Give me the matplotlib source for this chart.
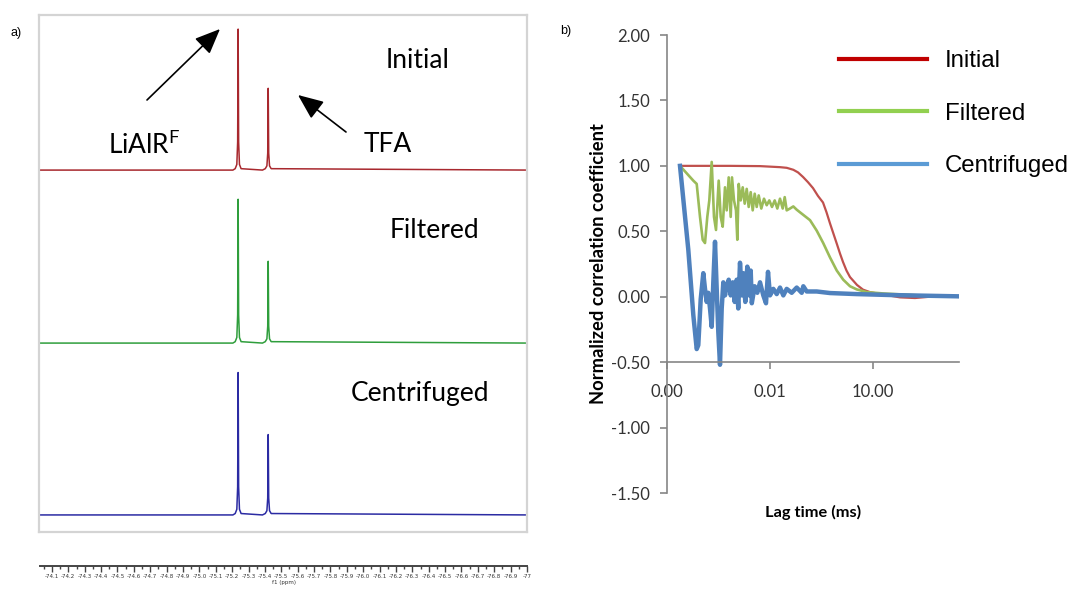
import matplotlib
matplotlib.use("Agg")
import matplotlib.pyplot as plt
from matplotlib.lines import Line2D
from matplotlib.patches import FancyArrowPatch
from matplotlib.ticker import FixedLocator, FuncFormatter, MultipleLocator

# ---------------- panel a : 19F spectra ----------------
ppm = [-74.02, -75.200, -75.214, -75.224, -75.229, -75.232, -75.235, -75.240, -75.250,
       -75.380, -75.397, -75.407, -75.412, -75.415, -75.418, -75.423, -75.433, -77.0]
spec_initial = [0, 0, 0.01, 0.04, 0.20, 1.00, 0.20, 0.04, 0.01,
                0, 0.01, 0.03, 0.12, 0.58, 0.12, 0.03, 0.01, 0]
spec_filtered = [0, 0, 0.01, 0.04, 0.20, 1.02, 0.20, 0.04, 0.01,
                 0, 0.01, 0.03, 0.12, 0.58, 0.12, 0.03, 0.01, 0]
spec_centrifuged = [0, 0, 0.01, 0.04, 0.20, 1.01, 0.20, 0.04, 0.01,
                    0, 0.01, 0.03, 0.12, 0.57, 0.12, 0.03, 0.01, 0]
sample_names = ["Initial", "Filtered", "Centrifuged"]

# ---------------- panel b : correlation curves ----------------
lag_initial = [2.39e-5, 9.15e-5, 6.84e-4, 5.12e-3, 0.0196, 0.0307, 0.0478, 0.0655, 0.0917,
               0.128, 0.179, 0.250, 0.350, 0.443, 0.560, 0.708, 0.895, 1.094, 1.34, 1.69,
               2.14, 3.42, 5.12, 8.18, 13.1, 31.3, 61.2, 167, 458, 3000]
initial = [1.00, 1.00, 1.00, 0.998, 0.99, 0.985, 0.97, 0.95, 0.915,
           0.875, 0.83, 0.77, 0.72, 0.645, 0.56, 0.48, 0.40, 0.33, 0.265, 0.20,
           0.15, 0.09, 0.054, 0.035, 0.025, 0.008, -0.005, -0.01, 0.0, 0.005]

lag_filtered = [2.39e-5, 5.84e-5, 7.33e-5, 9.15e-5, 1.096e-4, 1.279e-4, 1.492e-4, 1.707e-4,
                2.005e-4, 2.339e-4, 2.675e-4, 3.206e-4, 3.666e-4, 4.193e-4, 4.891e-4, 5.483e-4,
                6.27e-4, 7.17e-4, 7.82e-4, 8.95e-4, 1.023e-3, 1.117e-3, 1.226e-3, 1.402e-3,
                1.604e-3, 1.834e-3, 2.097e-3, 2.397e-3, 2.742e-3, 3.136e-3, 3.585e-3, 4.10e-3,
                4.69e-3, 5.58e-3, 6.69e-3, 8.02e-3, 9.55e-3, 0.01144, 0.01372, 0.01633,
                0.01957, 0.02346, 0.02682, 0.03067, 0.03827, 0.04775, 0.05998, 0.0748,
                0.1464, 0.2294, 0.355, 0.560, 0.88, 1.36, 2.14, 3.35, 6.6, 19.6, 98, 458, 3000]
filtered = [1.00, 0.887, 0.862, 0.61, 0.435, 0.41, 0.61, 0.736,
            1.03, 0.61, 0.51, 0.887, 0.61, 0.535, 0.836, 0.66,
            0.912, 0.61, 0.912, 0.736, 0.66, 0.435, 0.862, 0.736,
            0.836, 0.711, 0.824, 0.686, 0.799, 0.66, 0.787, 0.686,
            0.774, 0.674, 0.749, 0.699, 0.736, 0.686, 0.736, 0.674,
            0.749, 0.674, 0.761, 0.66, 0.674, 0.69, 0.665, 0.645,
            0.585, 0.505, 0.41, 0.30, 0.20, 0.13, 0.08, 0.056, 0.035, 0.025, 0.015, 0.005, 0.0]

lag_centrifuged = [2.39e-5, 4.17e-5, 5.84e-5, 7.33e-5, 8.16e-5, 9.58e-5, 1.141e-4, 1.279e-4,
                   1.434e-4, 1.596e-4, 1.789e-4, 2.005e-4, 2.232e-4, 2.502e-4, 2.803e-4,
                   3.121e-4, 3.498e-4, 3.921e-4, 4.365e-4, 4.891e-4, 5.483e-4, 6.27e-4,
                   7.17e-4, 8.20e-4, 9.37e-4, 1.072e-3, 1.19e-3, 1.338e-3, 1.530e-3, 1.669e-3,
                   1.909e-3, 2.183e-3, 2.496e-3, 2.742e-3, 2.95e-3, 3.585e-3, 4.27e-3, 5.12e-3,
                   6.38e-3, 7.65e-3, 8.75e-3, 0.01, 0.01249, 0.01569, 0.01957, 0.02442,
                   0.03067, 0.04289, 0.05998, 0.0839, 0.0934, 0.1173, 0.2294, 0.560, 3.35,
                   31.3, 292, 3000]
centrifuged = [1.00, 0.36, -0.14, -0.40, -0.37, -0.02, 0.18, 0.06,
               -0.04, 0.03, -0.09, -0.23, 0.11, 0.42, 0.06,
               -0.27, -0.52, -0.09, 0.11, 0.01, 0.08, 0.13,
               0.01, 0.11, -0.04, 0.13, -0.09, 0.26, 0.01, 0.18,
               -0.04, 0.23, 0.01, 0.20, -0.05, 0.08, 0.03, 0.11,
               0.01, -0.05, 0.19, 0.01, 0.06, 0.02, 0.07, 0.01,
               0.06, 0.03, 0.07, 0.03, 0.08, 0.04, 0.04, 0.028, 0.02,
               0.013, 0.008, 0.003]

y_ticks = [-1.5, -1.0, -0.5, 0.0, 0.5, 1.0, 1.5, 2.0]
x_ticks = [1e-5, 1e-2, 10]

W, H = 1072, 590
fig = plt.figure(figsize=(W / 100, H / 100), dpi=100)


def box(l, t, r, b):
    # pixel box -> figure fraction
    return [l / W, 1 - b / H, (r - l) / W, (b - t) / H]


def fxy(x, y):
    return (x / W, 1 - y / H)


# ---- panel a ----
axa = fig.add_axes(box(39, 15, 527, 532))
offsets = [2.567, 1.340, 0.121]
colors_a = ["#a8282e", "#2f9e3c", "#2b2ba3"]
for spec, off, c in zip([spec_initial, spec_filtered, spec_centrifuged], offsets, colors_a):
    axa.plot(ppm, [v + off for v in spec], color=c, lw=1.1)
axa.set_xlim(-74.02, -76.99)
axa.set_ylim(0, 3.667)
axa.set_xticks([])
axa.set_yticks([])
for s in axa.spines.values():
    s.set_color("#d4d4d4")
    s.set_linewidth(1.6)

fa = "Lato"
fig.text(*fxy(418, 61), "Initial", fontsize=19, family=fa, ha="center", va="center")
fig.text(*fxy(434, 230), "Filtered", fontsize=19, family=fa, ha="center", va="center")
fig.text(*fxy(420, 393), "Centrifuged", fontsize=19, family=fa, ha="center", va="center")
fig.text(*fxy(108, 145), "LiAlR$^{\\mathregular{F}}$", fontsize=19, family=fa,
         ha="left", va="center")
fig.text(*fxy(388, 145), "TFA", fontsize=19, family=fa, ha="center", va="center")
fig.text(*fxy(16, 33), "a)", fontsize=9, family="Liberation Sans", ha="center", va="center")

arrow = dict(arrowstyle="-|>,head_length=1.3,head_width=0.55", color="black", lw=1.2,
             shrinkA=0, shrinkB=0, mutation_scale=12, transform=fig.transFigure)
fig.add_artist(FancyArrowPatch(fxy(147, 100), fxy(220, 29), **arrow))
fig.add_artist(FancyArrowPatch(fxy(346, 132), fxy(298, 95), **arrow))

# ppm scale under the spectra
axs = fig.add_axes(box(40, 565, 527, 565.5))
axs.set_xlim(-74.027, -77.0)
axs.set_yticks([])
for k in ["left", "right", "top"]:
    axs.spines[k].set_visible(False)
axs.spines["bottom"].set_color("#444444")
axs.spines["bottom"].set_linewidth(1.4)
axs.xaxis.set_major_locator(MultipleLocator(0.1))
axs.xaxis.set_minor_locator(MultipleLocator(0.05))
axs.xaxis.set_major_formatter(
    FuncFormatter(lambda v, p: "-77" if abs(v + 77) < 1e-6 else "%.1f" % v))
axs.tick_params(axis="x", which="major", length=4, width=1, color="#444444",
                labelsize=4, pad=2, labelcolor="#333333")
axs.tick_params(axis="x", which="minor", length=2.5, width=1, color="#444444")
axs.set_xlabel("f1 (ppm)", fontsize=4, labelpad=1, color="#333333")

# ---- panel b ----
axb = fig.add_axes(box(667, 35, 959, 493))
axb.plot(lag_initial, initial, color="#c0504d", lw=1.6)
axb.plot(lag_filtered, filtered, color="#9bbb59", lw=1.9)
axb.plot(lag_centrifuged, centrifuged, color="#4f81bd", lw=3.2)
axb.set_xscale("log")
axb.set_xlim(1e-5, 3200)
axb.set_ylim(-1.5, 2.0)
axb.spines["top"].set_visible(False)
axb.spines["right"].set_visible(False)
axb.spines["bottom"].set_position(("data", -0.5))
for k in ["left", "bottom"]:
    axb.spines[k].set_color("#868686")
    axb.spines[k].set_linewidth(1.2)
axb.yaxis.set_major_locator(FixedLocator(y_ticks))
axb.yaxis.set_major_formatter(FuncFormatter(lambda v, p: "%.2f" % v))
axb.xaxis.set_major_locator(FixedLocator(x_ticks))
axb.xaxis.set_minor_locator(FixedLocator([]))
axb.xaxis.set_major_formatter(FuncFormatter(lambda v, p: "%.2f" % v))
axb.tick_params(axis="both", color="#868686", width=1.2, length=5, labelsize=12,
                labelcolor="#333333")
axb.tick_params(axis="y", pad=7)
axb.tick_params(axis="x", pad=11)
for lab in axb.get_xticklabels() + axb.get_yticklabels():
    lab.set_family(fa)
axb.set_ylabel("Normalized correlation coefficient", fontsize=13.2, family=fa,
               fontweight="bold")
axb.yaxis.set_label_coords(-0.205, 0.5)
axb.set_xlabel("Lag time (ms)", fontsize=11.8, family=fa, fontweight="bold")
axb.xaxis.set_label_coords(0.5, -0.026)

handles = [Line2D([], [], color="#c00000", lw=3),
           Line2D([], [], color="#92d050", lw=3),
           Line2D([], [], color="#5b9bd5", lw=3)]
fig.legend(handles, sample_names, loc="upper left",
           bbox_to_anchor=fxy(839, 50), bbox_transform=fig.transFigure,
           frameon=False, handlelength=3.65, handletextpad=0.75,
           labelspacing=1.27, borderpad=0, borderaxespad=0,
           prop={"family": "Liberation Sans", "size": 17.3})
fig.text(*fxy(566, 31), "b)", fontsize=9, family="Liberation Sans", ha="center", va="center")

fig.savefig("out.png", dpi=100)
